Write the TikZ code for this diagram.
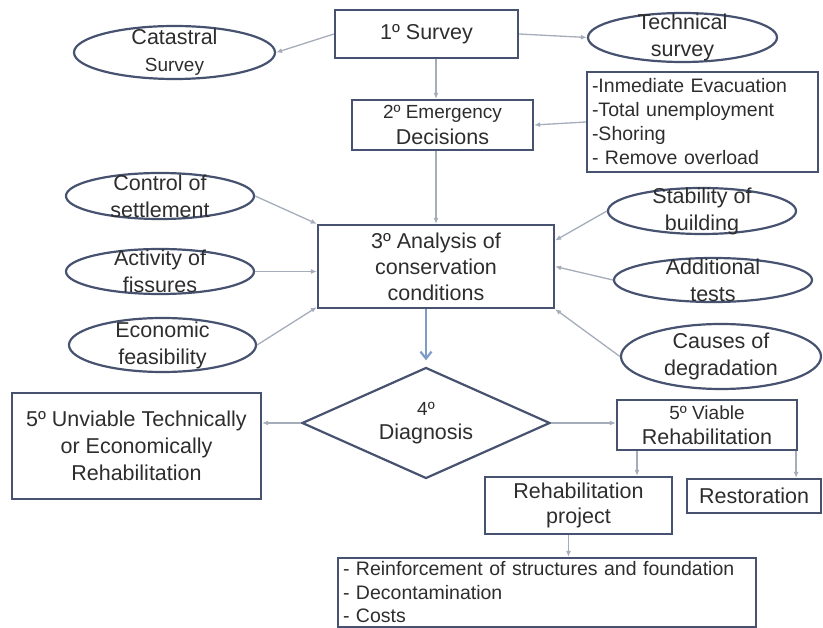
\documentclass[tikz,border=0pt]{standalone}
\usepackage{fontspec}
\setmainfont{Liberation Sans}
\usepackage{xcolor}
\usepackage{tikz}
\usetikzlibrary{shapes.geometric, positioning, arrows.meta}
\definecolor{edge}{HTML}{46526F}
\definecolor{link}{HTML}{A5ACBA}
\definecolor{ink}{HTML}{2D2D2D}
\definecolor{down}{HTML}{7F9CC7}
\newcommand{\sm}{\fontsize{19}{23}\selectfont}

\begin{document}
\begin{tikzpicture}[x=1pt, y=-1pt,
  box/.style={draw=edge, line width=2.2pt, rectangle, inner sep=0pt, align=center, text=ink, font=\fontsize{21.5}{26}\selectfont},
  oval/.style={draw=edge, line width=2.2pt, ellipse, inner sep=0pt},
  ovaltext/.style={text=ink, align=center, inner sep=0pt, font=\fontsize{21.5}{27}\selectfont},
  listbox/.style={draw=edge, line width=2.2pt, rectangle, inner xsep=5pt, inner ysep=0pt, align=left, text=ink, font=\fontsize{19.5}{24}\selectfont},
  conn/.style={draw=link, line width=1.3pt, -{Latex[length=6pt,width=5pt]}}]
\useasboundingbox (0,0) rectangle (823,628);

\node[box, minimum width=183pt, minimum height=48pt] (surv) at (426.5,34) {1º Survey};
\node[oval, minimum width=201pt, minimum height=53pt, label={[ovaltext]center:{Catastral\\{\sm Survey}}}] (cat) at (174.5,52.5) {};
\node[oval, minimum width=189pt, minimum height=49pt, label={[ovaltext]center:{Technical\\survey}}] (tech) at (682.5,37.5) {};
\node[box, minimum width=181pt, minimum height=50pt] (emer) at (442.5,125) {{\sm 2º Emergency}\\Decisions};
\node[listbox, text width=221pt, minimum height=100pt] (evac) at (702.5,122) {-Inmediate Evacuation\\-Total unemployment\\-Shoring\\- Remove overload};

\node[box, minimum width=236pt, minimum height=83pt] (anal) at (436,266.5) {3º Analysis of\\conservation\\conditions};
\node[oval, minimum width=188pt, minimum height=46pt, label={[ovaltext]center:{Control of\\settlement}}] (ctrl) at (160,196) {};
\node[oval, minimum width=188pt, minimum height=45pt, label={[ovaltext]center:{Activity of\\fissures}}] (act) at (160,271.5) {};
\node[oval, minimum width=187pt, minimum height=54pt, label={[ovaltext]center:{Economic\\feasibility}}] (eco) at (162.5,345) {};
\node[oval, minimum width=188pt, minimum height=46pt, label={[ovaltext]center:{Stability of\\building}}] (stab) at (702,211) {};
\node[oval, minimum width=198pt, minimum height=44pt, label={[ovaltext]center:{Additional\\tests}}] (add) at (713,280) {};
\node[oval, minimum width=200pt, minimum height=65pt, label={[ovaltext]center:{Causes of\\degradation}}] (cau) at (721,356.5) {};

\node[diamond, draw=edge, line width=2.2pt, aspect=2.2, inner sep=0pt, minimum width=248pt, minimum height=111pt, align=center, text=ink, font=\fontsize{21.5}{24}\selectfont] (diag) at (426,423) {{\sm 4º}\\Diagnosis};
\node[box, minimum width=249pt, minimum height=106pt, font=\fontsize{21.5}{27}\selectfont] (unv) at (136.5,446) {5º Unviable Technically\\or Economically\\Rehabilitation};
\node[box, minimum width=180pt, minimum height=50pt, font=\fontsize{21.5}{25}\selectfont] (via) at (707,425) {{\sm 5º Viable}\\Rehabilitation};
\node[box, minimum width=187pt, minimum height=57pt, font=\fontsize{21.5}{25}\selectfont] (proj) at (578.5,505.5) {Rehabilitation\\project};
\node[box, minimum width=134pt, minimum height=34pt] (rest) at (754,496) {Restoration};
\node[listbox, text width=408pt, minimum height=69pt, font=\fontsize{19.5}{23.5}\selectfont] (cost) at (547,592.5) {- Reinforcement of structures and foundation\\- Decontamination\\- Costs};

\draw[conn] (surv.west) -- (cat.east);
\draw[conn] (surv.east) -- (tech.west);
\draw[conn] (surv.south -| anal.north) -- (emer.north -| anal.north);
\draw[conn] (evac.west) -- (emer.east);
\draw[conn] (emer.south -| anal.north) -- (anal.north);
\draw[conn] (ctrl.east) -- (anal.north west);
\draw[conn] (act.east) -- (act.east -| anal.west);
\draw[conn] (eco.east) -- ([yshift=2pt]anal.south west);
\draw[conn] (stab.west) -- ([yshift=26pt]anal.east);
\draw[conn] (add.west) -- (anal.east);
\draw[conn] (cau.west) -- (anal.south east);
\draw[down, line width=2.2pt, -{Straight Barb[length=7pt,width=11pt]}, shorten >=6pt] (anal.south -| diag.north) -- (diag.north);
\draw[conn] (diag.west) -- (diag.west -| unv.east);
\draw[conn] (diag.east) -- (diag.east -| via.west);
\draw[conn] ([xshift=-70pt]via.south) -- ([xshift=-70pt]via.south |- proj.north);
\draw[conn] ([xshift=-2pt]via.south east) -- ([xshift=-2pt]via.south east |- rest.north);
\draw[conn] ([xshift=-10pt]proj.south) -- ([xshift=-10pt]proj.south |- cost.north);
\end{tikzpicture}
\end{document}
